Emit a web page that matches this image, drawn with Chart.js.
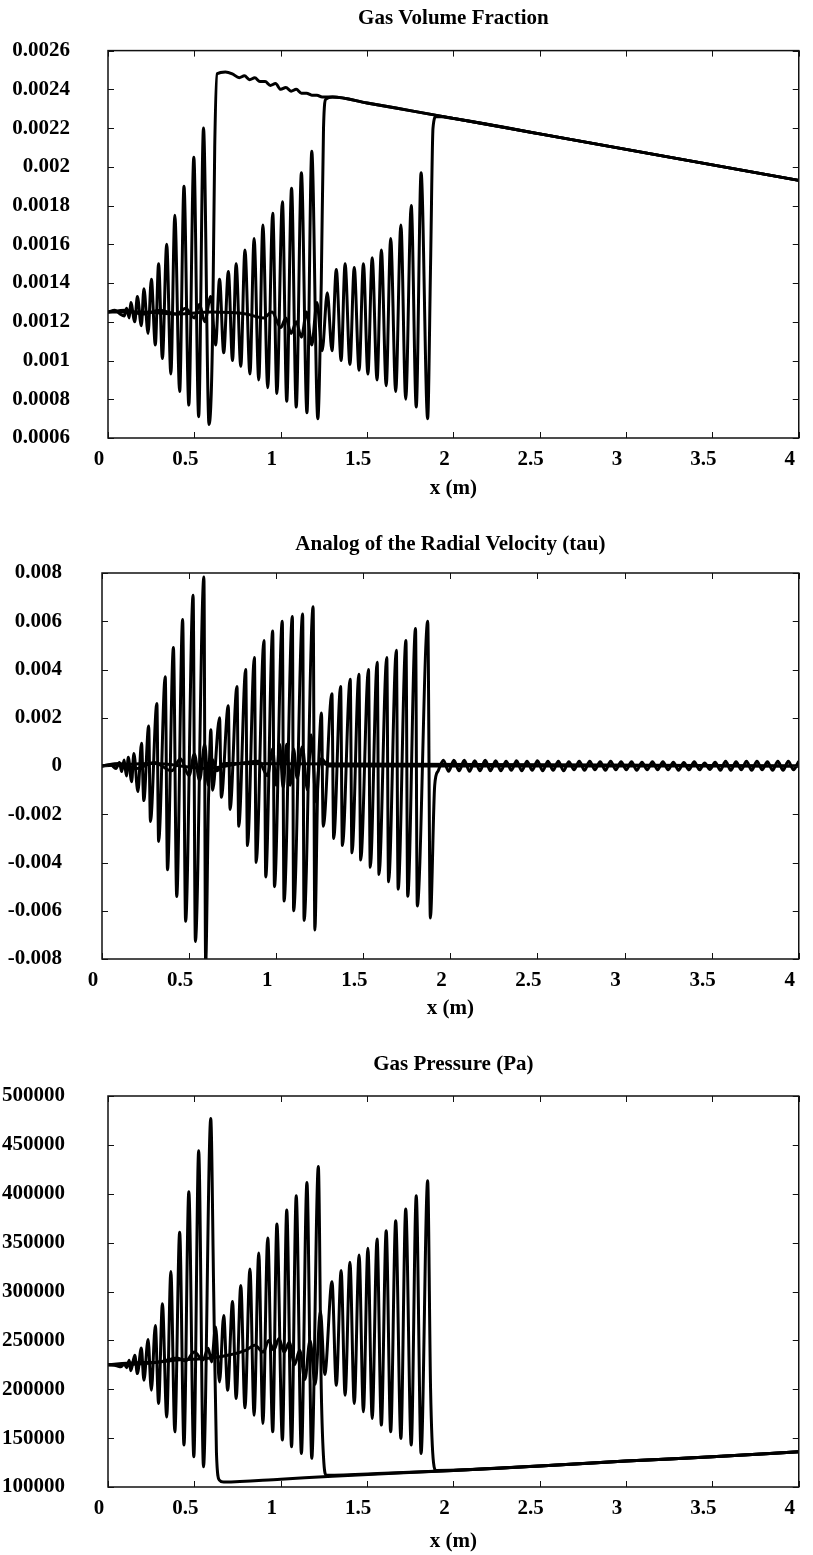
<!DOCTYPE html>
<html>
<head>
<meta charset="utf-8">
<script src="https://cdn.jsdelivr.net/npm/chart.js@4.4.1/dist/chart.umd.min.js"></script>
<style>
  body { margin: 0; background: #fff; }
  canvas { position: absolute; left: 0; }
</style>
</head>
<body>
<canvas id="alphaChart" style="top:0px" width="813" height="510"></canvas>
<canvas id="tauChart" style="top:510px" width="813" height="525"></canvas>
<canvas id="pressureChart" style="top:1035px" width="813" height="520"></canvas>
<script>
// tick values
var xTicks = [0, 0.5, 1, 1.5, 2, 2.5, 3, 3.5, 4];
var alphaTicks = [0.0006, 0.0008, 0.001, 0.0012, 0.0014, 0.0016, 0.0018, 0.002, 0.0022, 0.0024, 0.0026];
var tauTicks = [-0.008, -0.006, -0.004, -0.002, 0, 0.002, 0.004, 0.006, 0.008];
var pressureTicks = [100000, 150000, 200000, 250000, 300000, 350000, 400000, 450000, 500000];

// gas volume fraction, three snapshots (peaks / troughs)
var alphaAx = [0, 0.04, 0.07, 0.094, 0.108, 0.123, 0.132, 0.155, 0.17, 0.193, 0.208, 0.232, 0.251, 0.274, 0.293,
  0.315, 0.34, 0.364, 0.387, 0.415, 0.44, 0.468, 0.497, 0.525, 0.553, 0.585, 0.605, 0.618, 0.632, 0.68, 0.72,
  0.76, 0.79, 0.82, 0.85, 0.88, 0.91, 0.94, 0.97, 1.0, 1.03, 1.06, 1.09, 1.12, 1.15, 1.18, 1.21, 1.24, 1.3,
  1.5, 1.75, 2.0, 2.5, 3.0, 3.5, 4.0];
var alphaAy = [0.00125, 0.00126, 0.00124, 0.00123, 0.00127, 0.00122, 0.0013, 0.0012, 0.00133, 0.00118, 0.00137, 0.00114, 0.00142, 0.00108, 0.0015,
  0.00101, 0.0016, 0.00093, 0.00175, 0.00084, 0.0019, 0.00077, 0.00205, 0.00071, 0.0022, 0.00067, 0.0011, 0.0021, 0.00248, 0.00249, 0.00248,
  0.00246, 0.00247, 0.00245, 0.00246, 0.00244, 0.00244, 0.00242, 0.00243, 0.0024, 0.00241, 0.00239, 0.0024, 0.00238, 0.00238, 0.00237, 0.00237, 0.00236, 0.00236,
  0.00233, 0.00229, 0.00225, 0.00217, 0.00209, 0.00201, 0.00193];

var alphaBx = [0, 0.1, 0.2, 0.3, 0.4, 0.45, 0.5, 0.53, 0.56, 0.595, 0.623, 0.646, 0.67, 0.697, 0.721, 0.742, 0.769, 0.793, 0.822, 0.846,
  0.873, 0.897, 0.925, 0.954, 0.978, 1.01, 1.035, 1.063, 1.09, 1.12, 1.152, 1.18, 1.215, 1.235, 1.248, 1.262, 1.3,
  1.5, 1.75, 2.0, 2.5, 3.0, 3.5, 4.0];
var alphaBy = [0.00125, 0.00126, 0.00124, 0.00126, 0.00124, 0.00127, 0.00122, 0.00129, 0.0012, 0.00133, 0.00108, 0.00142, 0.00104, 0.00146, 0.001, 0.0015, 0.00097, 0.00157, 0.00093, 0.00163,
  0.0009, 0.0017, 0.00086, 0.00176, 0.00083, 0.00182, 0.00079, 0.00189, 0.00076, 0.00197, 0.00073, 0.00208, 0.0007, 0.0014, 0.0022, 0.00235, 0.00236,
  0.00233, 0.00229, 0.00225, 0.00217, 0.00209, 0.00201, 0.00193];

var alphaCx = [0, 0.2, 0.4, 0.6, 0.8, 0.9, 0.95, 1.0, 1.03, 1.06, 1.09, 1.12, 1.15, 1.18, 1.21, 1.24, 1.27, 1.297, 1.322, 1.35,
  1.373, 1.401, 1.426, 1.454, 1.479, 1.505, 1.53, 1.558, 1.583, 1.611, 1.637, 1.666, 1.696, 1.724, 1.756, 1.785, 1.813, 1.851, 1.868, 1.882,
  1.9, 2.0, 2.5, 3.0, 3.5, 4.0];
var alphaCy = [0.00125, 0.00125, 0.00124, 0.00125, 0.00124, 0.00122, 0.00125, 0.00117, 0.00122, 0.00114, 0.0012, 0.00112, 0.00125, 0.00108, 0.0013, 0.00105, 0.00135, 0.00105, 0.00147, 0.001,
  0.0015, 0.00098, 0.00148, 0.00095, 0.0015, 0.00093, 0.00153, 0.0009, 0.00157, 0.00087, 0.00163, 0.00084, 0.0017, 0.0008, 0.0018, 0.00076, 0.00197, 0.0007, 0.0015, 0.0022,
  0.00226, 0.00225, 0.00217, 0.00209, 0.00201, 0.00193];

// analog of the radial velocity (tau)
var tauAx = [0, 0.05, 0.08, 0.1, 0.113, 0.127, 0.14, 0.151, 0.17, 0.183, 0.206, 0.227, 0.24, 0.268, 0.278, 0.315,
  0.325, 0.363, 0.376, 0.41, 0.429, 0.463, 0.48, 0.523, 0.536, 0.585, 0.595, 0.612, 0.63, 0.66, 0.7, 4.0];
var tauAy = [0, 0.00005, -0.0001, 0.00015, -0.00023, 0.00025, -0.00041, 0.00036, -0.00065, 0.00052, -0.00106, 0.00094, -0.00143, 0.00166, -0.0023, 0.00259,
  -0.00313, 0.0037, -0.0043, 0.00491, -0.00541, 0.00607, -0.00644, 0.00708, -0.00727, 0.00783, -0.0082, -0.0012, 0.0003, -0.0002, 0.0001, 0];

var tauBx = [0, 0.1, 0.2, 0.3, 0.4, 0.45, 0.5, 0.53, 0.56, 0.59, 0.61, 0.625, 0.635, 0.675, 0.685, 0.725, 0.735, 0.775, 0.785, 0.825,
  0.835, 0.875, 0.885, 0.93, 0.94, 0.98, 0.99, 1.035, 1.045, 1.093, 1.1, 1.152, 1.16, 1.212, 1.222, 1.24, 1.26, 1.3, 4.0];
var tauBy = [0, 0.0001, -0.0001, 0.00015, -0.0002, 0.0003, -0.0004, 0.0005, -0.0006, 0.0009, -0.0008, 0.0015, -0.001, 0.002, -0.0013, 0.0025, -0.0018, 0.0033, -0.0025, 0.004,
  -0.0033, 0.0045, -0.004, 0.0052, -0.0046, 0.0056, -0.005, 0.006, -0.0056, 0.0062, -0.006, 0.0063, -0.0064, 0.0066, -0.0068, -0.0005, 0.0003, 0, 0];

var tauCx = [0, 0.3, 0.6, 0.9, 0.95, 0.98, 1.0, 1.02, 1.04, 1.06, 1.08, 1.1, 1.12, 1.15, 1.18, 1.2, 1.23, 1.26, 1.27, 1.32,
  1.33, 1.37, 1.38, 1.425, 1.435, 1.475, 1.485, 1.53, 1.54, 1.58, 1.59, 1.635, 1.645, 1.69, 1.7, 1.745, 1.755, 1.8, 1.81, 1.87,
  1.885, 1.91, 1.93];
var tauCy = [0, 0.0001, -0.0001, 0.0002, -0.0004, 0.0007, -0.0008, 0.0009, -0.0009, 0.0009, -0.0008, 0.0007, -0.0005, 0.0008, -0.001, 0.0013, -0.0015, 0.0022, -0.0025, 0.003,
  -0.003, 0.0033, -0.0033, 0.0036, -0.0036, 0.0038, -0.0039, 0.004, -0.0042, 0.0043, -0.0045, 0.0045, -0.0048, 0.0048, -0.0051, 0.0052, -0.0054, 0.0057, -0.0058, 0.006,
  -0.0063, -0.0008, -0.0002];
// small ripples left behind the last front
var tauTailX = [1.96, 1.99, 2.02, 2.05, 2.08, 2.11, 2.14, 2.17, 2.2, 2.23,
  2.26, 2.29, 2.32, 2.35, 2.38, 2.41, 2.44, 2.47, 2.5, 2.53,
  2.56, 2.59, 2.62, 2.65, 2.68, 2.71, 2.74, 2.77, 2.8, 2.83,
  2.86, 2.89, 2.92, 2.95, 2.98, 3.01, 3.04, 3.07, 3.1, 3.13,
  3.16, 3.19, 3.22, 3.25, 3.28, 3.31, 3.34, 3.37, 3.4, 3.43,
  3.46, 3.49, 3.52, 3.55, 3.58, 3.61, 3.64, 3.67, 3.7, 3.73,
  3.76, 3.79, 3.82, 3.85, 3.88, 3.91, 3.94, 3.97, 4.0];
var tauTailY = [0.00024, -0.00022, 0.00024, -0.0002, 0.00024, -0.00022, 0.00022, -0.0002, 0.00024, -0.0002,
  0.00022, -0.0002, 0.0002, -0.00018, 0.00022, -0.0002, 0.0002, -0.00018, 0.00022, -0.0002,
  0.0002, -0.00018, 0.0002, -0.0002, 0.00018, -0.00016, 0.0002, -0.00018, 0.0002, -0.00016,
  0.00018, -0.00018, 0.0002, -0.00016, 0.00018, -0.00016, 0.00018, -0.00018, 0.00016, -0.00016,
  0.00018, -0.00016, 0.00018, -0.00016, 0.00016, -0.00018, 0.00014, -0.00016, 0.00018, -0.00016,
  0.00012, -0.00014, 0.00016, -0.00018, 0.0002, -0.00018, 0.00018, -0.00016, 0.0002, -0.00018,
  0.0002, -0.00016, 0.00018, -0.00018, 0.0002, -0.00018, 0.0002, -0.00016, 0.0002];

// gas pressure (Pa)
var presAx = [0, 0.05, 0.075, 0.094, 0.108, 0.123, 0.132, 0.155, 0.17, 0.193, 0.208, 0.232, 0.251, 0.274, 0.293,
  0.315, 0.34, 0.364, 0.387, 0.415, 0.44, 0.468, 0.497, 0.525, 0.553, 0.595, 0.612, 0.628, 0.645, 0.67,
  1.0, 1.3, 2.0, 2.5, 3.0, 3.5, 4.0];
var presAy = [225000, 224000, 223000, 226000, 222000, 229600, 219000, 234700, 216000, 242200, 209200, 251000, 199000, 265300, 185400,
  287400, 171700, 320400, 156500, 360500, 142900, 402000, 130900, 443900, 120750, 476900, 300000, 135000, 107000, 105000,
  108000, 111000, 117000, 121500, 126500, 131000, 136000];

var presBx = [0, 0.15, 0.3, 0.4, 0.45, 0.5, 0.55, 0.58, 0.6, 0.623, 0.646, 0.67, 0.693, 0.721, 0.742, 0.769, 0.793, 0.822, 0.846,
  0.873, 0.897, 0.925, 0.954, 0.978, 1.01, 1.035, 1.063, 1.09, 1.12, 1.152, 1.18, 1.218, 1.235, 1.25, 1.265,
  1.6, 2.0, 2.5, 3.0, 3.5, 4.0];
var presBy = [225000, 227000, 228000, 232000, 229000, 238000, 230000, 242000, 228000, 263600, 207500, 275500, 199000, 289800, 190500, 306100, 181000, 323100, 173500,
  339500, 165000, 354800, 156500, 369000, 148000, 383300, 141200, 398000, 134300, 411600, 129300, 427900, 200000, 125000, 112000,
  114000, 117000, 121500, 126500, 131000, 136000];

var presCx = [0, 0.2, 0.4, 0.6, 0.7, 0.8, 0.85, 0.9, 0.93, 0.96, 0.99, 1.02, 1.05, 1.08, 1.11, 1.14, 1.17, 1.2, 1.23, 1.255,
  1.297, 1.322, 1.35, 1.373, 1.401, 1.426, 1.454, 1.479, 1.505, 1.53, 1.558, 1.583, 1.611, 1.637, 1.666, 1.696, 1.724, 1.756, 1.785, 1.813,
  1.851, 1.868, 1.885, 1.9, 2.5, 3.0, 3.5, 4.0];
var presCy = [225000, 226000, 230000, 232000, 235000, 240000, 245000, 238000, 250000, 240000, 252000, 238000, 248000, 225000, 240000, 210000, 250000, 205000, 280000, 215000,
  310000, 204100, 321400, 193900, 330000, 185400, 337400, 176900, 344200, 170000, 353700, 163300, 362200, 156500, 372400, 149700, 384400, 142900, 398000, 134300,
  413300, 200000, 125000, 117000, 121500, 126500, 131000, 136000];

Chart.defaults.font.family = "'Liberation Serif', 'Times New Roman', serif";
Chart.defaults.font.size = 21;
Chart.defaults.font.weight = 'bold';
Chart.defaults.color = '#000';

function points(xs, ys) {
  return xs.map(function (x, i) { return {x: x, y: ys[i]}; });
}

// closed box with small inward ticks on all four sides
var frame = {
  id: 'frame',
  afterDraw: function (chart) {
    var ctx = chart.ctx, a = chart.chartArea, sx = chart.scales.x, sy = chart.scales.y;
    ctx.save();
    ctx.strokeStyle = '#111';
    ctx.lineWidth = 1.5;
    ctx.strokeRect(a.left, a.top, a.right - a.left, a.bottom - a.top);
    ctx.lineWidth = 1;
    ctx.beginPath();
    sx.ticks.forEach(function (t) {
      var p = Math.round(sx.getPixelForValue(t.value)) + 0.5;
      ctx.moveTo(p, a.bottom); ctx.lineTo(p, a.bottom - 6);
      ctx.moveTo(p, a.top); ctx.lineTo(p, a.top + 6);
    });
    sy.ticks.forEach(function (t) {
      var p = Math.round(sy.getPixelForValue(t.value)) + 0.5;
      ctx.moveTo(a.left, p); ctx.lineTo(a.left + 6, p);
      ctx.moveTo(a.right, p); ctx.lineTo(a.right - 6, p);
    });
    ctx.stroke();
    ctx.restore();
  }
};

function createPlot(id, title, series, yTicks, box) {
  return new Chart(id, {
    type: 'line',
    data: {
      datasets: series.map(function (s) {
        return {
          data: s,
          borderColor: '#000',
          borderWidth: 3,
          pointRadius: 0,
          fill: false,
          cubicInterpolationMode: 'monotone'
        };
      })
    },
    options: {
      responsive: false,
      animation: false,
      devicePixelRatio: 1,
      layout: { padding: { left: 0, right: 5, top: 0, bottom: 0 } },
      plugins: { legend: { display: false }, tooltip: { enabled: false } },
      scales: {
        x: {
          type: 'linear', position: 'bottom', min: 0, max: 4,
          grid: { display: false, drawTicks: false },
          border: { display: false },
          afterBuildTicks: function (s) { s.ticks = xTicks.map(function (v) { return {value: v}; }); },
          afterFit: function (s) { s.height = box.bottomH; },
          ticks: { padding: 9, labelOffset: -9, autoSkip: false, maxRotation: 0,
            callback: function (v) { return String(v); } },
          title: { display: true, text: 'x (m)', padding: { top: 0, bottom: box.xTitlePad } }
        },
        x2: {
          type: 'linear', position: 'top', axis: 'x', min: 0, max: 4,
          grid: { display: false, drawTicks: false },
          border: { display: false },
          ticks: { display: false },
          afterFit: function (s) { s.height = box.topH; },
          title: { display: true, text: title, padding: { top: box.titlePad, bottom: 0 } }
        },
        y: {
          type: 'linear', position: 'left', min: yTicks[0], max: yTicks[yTicks.length - 1],
          grid: { display: false, drawTicks: false },
          border: { display: false },
          afterBuildTicks: function (s) { s.ticks = yTicks.map(function (v) { return {value: v}; }); },
          afterFit: function (s) { s.width = box.leftW; },
          ticks: { padding: box.yPad, autoSkip: false,
            callback: function (v) { return String(+v.toFixed(5)); } }
        }
      }
    },
    plugins: [frame]
  });
}

createPlot('alphaChart', 'Gas Volume Fraction',
  [points(alphaAx, alphaAy), points(alphaBx, alphaBy), points(alphaCx, alphaCy)],
  alphaTicks, { topH: 45, bottomH: 72, leftW: 108, yPad: 38, titlePad: 0, xTitlePad: 9 });

createPlot('tauChart', 'Analog of the Radial Velocity (tau)',
  [points(tauAx, tauAy), points(tauBx, tauBy), points(tauCx.concat(tauTailX), tauCy.concat(tauTailY))],
  tauTicks, { topH: 63, bottomH: 76, leftW: 102, yPad: 40, titlePad: 22, xTitlePad: 14 });

createPlot('pressureChart', 'Gas Pressure (Pa)',
  [points(presAx, presAy), points(presBx, presBy), points(presCx, presCy)],
  pressureTicks, { topH: 61, bottomH: 68, leftW: 108, yPad: 43, titlePad: 17, xTitlePad: 1 });
</script>
</body>
</html>
